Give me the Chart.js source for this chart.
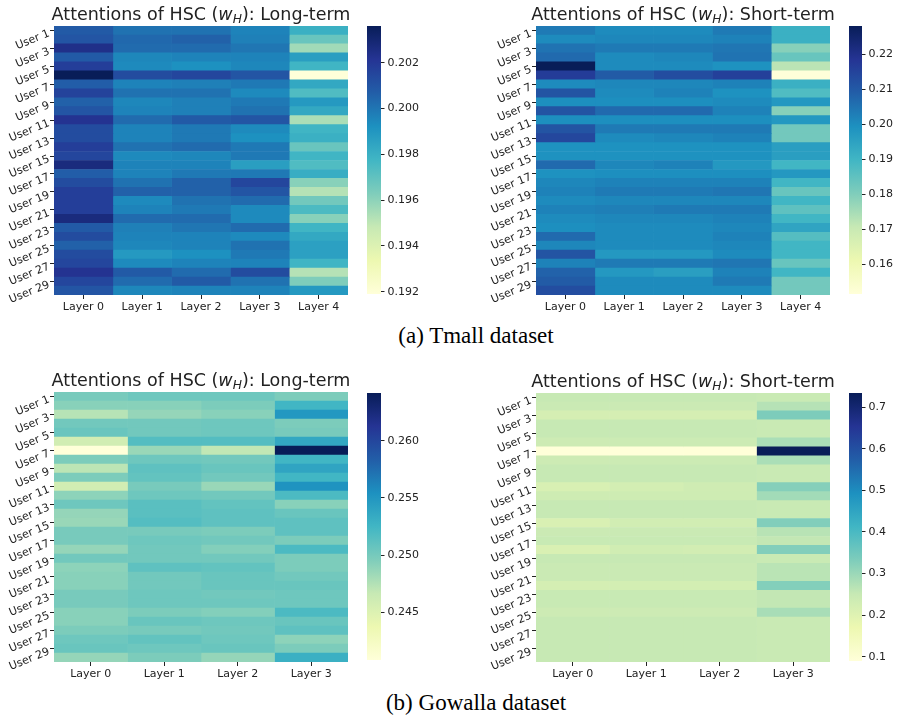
<!DOCTYPE html>
<html><head><meta charset="utf-8">
<script src="https://cdn.jsdelivr.net/npm/chart.js@4.4.1/dist/chart.umd.min.js"></script>
<style>
html,body{margin:0;padding:0;background:#fff;width:897px;height:722px;overflow:hidden;}
canvas{position:absolute;}
.cap{position:absolute;left:0;width:952px;text-align:center;font-family:'Liberation Serif',serif;font-size:23px;line-height:23px;color:#000;white-space:nowrap;}
</style></head><body>
<canvas id="h1"></canvas><canvas id="c1"></canvas>
<canvas id="h2"></canvas><canvas id="c2"></canvas>
<canvas id="h3"></canvas><canvas id="c3"></canvas>
<canvas id="h4"></canvas><canvas id="c4"></canvas>
<div class="cap" style="top:324px">(a) Tmall dataset</div>
<div class="cap" style="top:691px">(b) Gowalla dataset</div>
<script>
// ---------- categories ----------
const users = ['User 1','User 2','User 3','User 4','User 5','User 6','User 7','User 8','User 9','User 10',
  'User 11','User 12','User 13','User 14','User 15','User 16','User 17','User 18','User 19','User 20',
  'User 21','User 22','User 23','User 24','User 25','User 26','User 27','User 28','User 29','User 30'];
const tmallLayers = ['Layer 0','Layer 1','Layer 2','Layer 3','Layer 4'];
const gowallaLayers = ['Layer 0','Layer 1','Layer 2','Layer 3'];

// ---------- Tmall, long-term ----------
const tmallLong_L0 = [0.2008,0.2010,0.2024,0.2008,0.2018,0.2036,0.2007,0.2016,0.2006,0.2010,0.2022,0.2013,0.2013,0.2018,0.2015,0.2027,0.2007,0.2013,0.2018,0.2018,0.2018,0.2027,0.2008,0.2013,0.2006,0.2013,0.2015,0.2022,0.2015,0.2010];
const tmallLong_L1 = [0.2001,0.2004,0.2003,0.1995,0.1994,0.2013,0.1996,0.2001,0.1995,0.1996,0.2003,0.1996,0.1996,0.2001,0.1994,0.1996,0.1996,0.2001,0.2006,0.1994,0.1996,0.2003,0.1997,0.1996,0.1995,0.1989,0.1994,0.2008,0.2003,0.1995];
const tmallLong_L2 = [0.2001,0.2006,0.2003,0.1996,0.1992,0.2015,0.1997,0.2001,0.1997,0.1997,0.2008,0.1999,0.1999,0.2003,0.1995,0.1996,0.1999,0.2006,0.2006,0.2001,0.1999,0.2003,0.2000,0.1996,0.1996,0.1992,0.1996,0.2003,0.2008,0.1996];
const tmallLong_L3 = [0.1996,0.1997,0.2000,0.1996,0.1995,0.2010,0.1999,0.1994,0.1999,0.2001,0.2010,0.1994,0.1992,0.1999,0.1999,0.1987,0.1999,0.2015,0.2010,0.2003,0.1994,0.1994,0.2003,0.1994,0.2001,0.1999,0.1996,0.2013,0.2001,0.1996];
const tmallLong_L4 = [0.1980,0.1968,0.1956,0.1987,0.1978,0.1919,0.1983,0.1974,0.1989,0.1983,0.1954,0.1978,0.1980,0.1968,0.1978,0.1974,0.1981,0.1961,0.1952,0.1966,0.1975,0.1961,0.1978,0.1983,0.1986,0.1986,0.1978,0.1952,0.1963,0.1989];
const tmallLongTicks = [0.192,0.194,0.196,0.198,0.200,0.202];

// ---------- Tmall, short-term ----------
const tmallShort_L0 = [0.2036,0.2005,0.2051,0.2067,0.2281,0.2166,0.2005,0.2112,0.1998,0.2112,0.1998,0.2112,0.2143,0.1990,0.1990,0.2067,0.1990,0.2013,0.2021,0.2005,0.2021,0.2005,0.1998,0.2067,0.2013,0.2112,0.2021,0.2082,0.2097,0.2128];
const tmallShort_L1 = [0.2005,0.2013,0.2036,0.2005,0.2005,0.2097,0.2013,0.2005,0.1998,0.2067,0.1998,0.2036,0.2005,0.1990,0.1990,0.2013,0.1998,0.2021,0.2036,0.2013,0.2028,0.2013,0.2005,0.2005,0.2005,0.1975,0.2036,0.1975,0.2005,0.2005];
const tmallShort_L2 = [0.2005,0.2013,0.2036,0.2013,0.2005,0.2128,0.2013,0.2021,0.1998,0.2067,0.1998,0.2036,0.2013,0.1990,0.1990,0.2021,0.1998,0.2021,0.2036,0.2013,0.2036,0.2013,0.2005,0.2005,0.2005,0.1975,0.2036,0.1959,0.2005,0.2005];
const tmallShort_L3 = [0.2036,0.2021,0.2044,0.2051,0.1990,0.2158,0.2021,0.1990,0.2005,0.2021,0.1998,0.2036,0.2021,0.1990,0.1990,0.1975,0.1998,0.2021,0.2044,0.2013,0.2036,0.2021,0.2013,0.2021,0.2013,0.2005,0.2044,0.2021,0.2036,0.2005];
const tmallShort_L4 = [0.1913,0.1913,0.1791,0.1837,0.1722,0.1515,0.1913,0.1875,0.1975,0.1791,0.1975,0.1821,0.1821,0.1959,0.1959,0.1898,0.1975,0.1898,0.1837,0.1898,0.1852,0.1898,0.1944,0.1867,0.1898,0.1898,0.1837,0.1898,0.1821,0.1821];
const tmallShortTicks = [0.16,0.17,0.18,0.19,0.20,0.21,0.22];

// ---------- Gowalla, long-term ----------
const gowallaLong_L0 = [0.2499,0.2492,0.2473,0.2502,0.2506,0.2459,0.2408,0.2497,0.2471,0.2497,0.2459,0.2490,0.2504,0.2487,0.2485,0.2499,0.2499,0.2487,0.2502,0.2490,0.2492,0.2492,0.2499,0.2499,0.2492,0.2492,0.2497,0.2504,0.2506,0.2487];
const gowallaLong_L1 = [0.2504,0.2492,0.2487,0.2502,0.2502,0.2516,0.2485,0.2504,0.2511,0.2509,0.2499,0.2504,0.2513,0.2513,0.2516,0.2499,0.2504,0.2502,0.2502,0.2511,0.2502,0.2502,0.2504,0.2504,0.2497,0.2506,0.2499,0.2509,0.2504,0.2497];
const gowallaLong_L2 = [0.2504,0.2497,0.2492,0.2504,0.2504,0.2516,0.2469,0.2502,0.2506,0.2502,0.2485,0.2502,0.2509,0.2511,0.2511,0.2497,0.2502,0.2494,0.2502,0.2509,0.2506,0.2506,0.2502,0.2504,0.2494,0.2504,0.2502,0.2504,0.2506,0.2487];
const gowallaLong_L3 = [0.2497,0.2525,0.2549,0.2497,0.2499,0.2537,0.2642,0.2525,0.2539,0.2525,0.2553,0.2520,0.2492,0.2506,0.2511,0.2511,0.2497,0.2520,0.2497,0.2497,0.2502,0.2506,0.2504,0.2504,0.2520,0.2506,0.2511,0.2490,0.2497,0.2530];
const gowallaLongTicks = [0.245,0.250,0.255,0.260];

// ---------- Gowalla, short-term ----------
const gowallaShort_L0 = [0.251,0.245,0.222,0.251,0.251,0.238,0.090,0.238,0.251,0.251,0.215,0.236,0.251,0.251,0.212,0.243,0.248,0.212,0.251,0.245,0.245,0.223,0.248,0.248,0.238,0.251,0.251,0.251,0.251,0.251];
const gowallaShort_L1 = [0.251,0.243,0.222,0.251,0.251,0.240,0.091,0.240,0.251,0.251,0.225,0.236,0.251,0.251,0.230,0.245,0.248,0.232,0.251,0.245,0.245,0.225,0.248,0.248,0.238,0.251,0.251,0.251,0.251,0.251];
const gowallaShort_L2 = [0.251,0.243,0.222,0.251,0.251,0.240,0.092,0.240,0.251,0.251,0.235,0.236,0.251,0.251,0.230,0.245,0.248,0.228,0.251,0.245,0.245,0.225,0.248,0.248,0.238,0.251,0.251,0.251,0.251,0.251];
const gowallaShort_L3 = [0.247,0.270,0.334,0.247,0.247,0.283,0.734,0.283,0.247,0.247,0.325,0.292,0.247,0.247,0.328,0.268,0.256,0.328,0.247,0.265,0.265,0.327,0.256,0.256,0.286,0.247,0.247,0.247,0.247,0.247];
const gowallaShortTicks = [0.1,0.2,0.3,0.4,0.5,0.6,0.7];

// ---------- colour map (YlGnBu) ----------
const YLGNBU = ['#ffffd9','#edf8b1','#c7e9b4','#7fcdbb','#41b6c4','#1d91c0','#225ea8','#253494','#081d58'];
const CM = YLGNBU.map(h => [parseInt(h.slice(1,3),16), parseInt(h.slice(3,5),16), parseInt(h.slice(5,7),16)]);
function cmap(t){
  t = Math.max(0, Math.min(1, t));
  const x = t * 8, i = Math.min(7, Math.floor(x)), f = x - i, a = CM[i], b = CM[i+1];
  return 'rgb(' + [0,1,2].map(k => Math.round(a[k] + (b[k]-a[k])*f)).join(',') + ')';
}

const FONT = "'DejaVu Sans', sans-serif";
const TXT = '#222222';

const richTitle = {
  id: 'richTitle',
  afterDraw(chart, args, opts){
    if (!opts || !opts.text) return;
    const ctx = chart.ctx, ca = chart.chartArea, size = 17.5;
    const segs = [
      {t:'Attentions of HSC (', f: size + 'px ' + FONT, dy:0},
      {t:'w', f:'italic ' + size + 'px ' + FONT, dy:0},
      {t:'H', f:'italic ' + (size*0.7) + 'px ' + FONT, dy:2.5},
      {t:'): ' + opts.text, f: size + 'px ' + FONT, dy:0}
    ];
    ctx.save();
    let total = 0;
    segs.forEach(s => { ctx.font = s.f; s.w = ctx.measureText(s.t).width; total += s.w; });
    let x = (ca.left + ca.right)/2 - total/2;
    const y = ca.top - 6;
    ctx.fillStyle = TXT; ctx.textBaseline = 'alphabetic'; ctx.textAlign = 'left';
    segs.forEach(s => { ctx.font = s.f; ctx.fillText(s.t, x, y + s.dy); x += s.w; });
    ctx.restore();
  }
};

function place(cv, left, top, w, h){
  cv.width = w; cv.height = h;
  cv.style.left = left + 'px'; cv.style.top = top + 'px';
  cv.style.width = w + 'px'; cv.style.height = h + 'px';
}

function makeHeatmap(id, rect, layers, cols, title){
  const OFFL = 54, OFFT = 30, OFFR = 12, XH = 28;
  const cv = document.getElementById(id);
  place(cv, rect.x - OFFL, rect.y - OFFT, rect.w + OFFL + OFFR, rect.h + OFFT + XH);
  const all = cols.flat();
  const vmin = Math.min(...all), vmax = Math.max(...all);
  const datasets = cols.map((vals, j) => ({
    label: layers[j],
    data: vals.map(() => 1),
    backgroundColor: vals.map(v => cmap((v - vmin) / (vmax - vmin))),
    borderWidth: 0, barPercentage: 1, categoryPercentage: 1
  }));
  new Chart(cv, {
    type: 'bar',
    data: { labels: users, datasets },
    options: {
      indexAxis: 'y', responsive: false, animation: false, devicePixelRatio: 1,
      layout: { padding: { left: 0, top: OFFT, right: OFFR, bottom: 0 } },
      plugins: { legend: { display: false }, tooltip: { enabled: false }, richTitle: { text: title } },
      scales: {
        x: {
          type: 'linear', stacked: true, min: 0, max: layers.length,
          afterBuildTicks: s => { s.ticks = layers.map((_, i) => ({ value: i + 0.5 })); },
          afterFit: s => { s.height = XH; },
          ticks: { callback: v => layers[Math.round(v - 0.5)], autoSkip: false, maxRotation: 0, minRotation: 0,
                   padding: 1.5, color: TXT, font: { family: FONT, size: 11 } },
          grid: { drawOnChartArea: false, drawTicks: true, tickLength: 4, tickColor: TXT, tickWidth: 1 },
          border: { display: false }
        },
        y: {
          type: 'category', stacked: true, offset: true,
          afterBuildTicks: s => { s.ticks = s.ticks.filter((t, i) => i % 2 === 0); },
          afterFit: s => { s.width = OFFL; },
          // a blank first line nudges each rotated label slightly below its tick, as in the original
          ticks: { callback: function(v){ return ['', this.getLabelForValue(v)]; },
                   autoSkip: false, minRotation: 22, maxRotation: 22, padding: 2, color: TXT,
                   font: { family: FONT, size: 11, lineHeight: 0.55 } },
          grid: { offset: false, drawOnChartArea: false, drawTicks: true, tickLength: 4, tickColor: TXT, tickWidth: 1 },
          border: { display: false }
        }
      }
    },
    plugins: [richTitle]
  });
  return { vmin, vmax };
}

function makeColorbar(id, rect, range, ticks, decimals){
  const AXW = 70, PT = 20, PB = 20;
  const cv = document.getElementById(id);
  place(cv, rect.x, rect.y - PT, rect.w + AXW, rect.h + PT + PB);
  new Chart(cv, {
    type: 'bar',
    data: { labels: [''], datasets: [{
      data: [[range.vmin, range.vmax]],
      backgroundColor: c => {
        const ca = c.chart.chartArea;
        if (!ca) return YLGNBU[4];
        const g = c.chart.ctx.createLinearGradient(0, ca.bottom, 0, ca.top);
        YLGNBU.forEach((col, i) => g.addColorStop(i / 8, col));
        return g;
      },
      borderWidth: 0, barPercentage: 1, categoryPercentage: 1
    }]},
    options: {
      responsive: false, animation: false, devicePixelRatio: 1,
      layout: { padding: { left: 0, right: 0, top: PT, bottom: PB } },
      plugins: { legend: { display: false }, tooltip: { enabled: false } },
      scales: {
        x: { display: false },
        y: {
          position: 'right', min: range.vmin, max: range.vmax,
          afterBuildTicks: s => { s.ticks = ticks.map(v => ({ value: v })); },
          afterFit: s => { s.width = AXW; },
          ticks: { callback: v => Number(v).toFixed(decimals), padding: 3, color: TXT, font: { family: FONT, size: 11 } },
          grid: { drawOnChartArea: false, drawTicks: true, tickLength: 3.5, tickColor: TXT, tickWidth: 1 },
          border: { display: false }
        }
      }
    }
  });
}

const r1 = makeHeatmap('h1', {x:54, y:26, w:294, h:269}, tmallLayers,
  [tmallLong_L0, tmallLong_L1, tmallLong_L2, tmallLong_L3, tmallLong_L4], 'Long-term');
makeColorbar('c1', {x:367, y:26, w:14, h:268}, r1, tmallLongTicks, 3);

const r2 = makeHeatmap('h2', {x:536, y:26, w:294, h:269}, tmallLayers,
  [tmallShort_L0, tmallShort_L1, tmallShort_L2, tmallShort_L3, tmallShort_L4], 'Short-term');
makeColorbar('c2', {x:849, y:26, w:13, h:268}, r2, tmallShortTicks, 2);

const r3 = makeHeatmap('h3', {x:54, y:392, w:294, h:270}, gowallaLayers,
  [gowallaLong_L0, gowallaLong_L1, gowallaLong_L2, gowallaLong_L3], 'Long-term');
makeColorbar('c3', {x:367, y:393, w:14, h:267}, r3, gowallaLongTicks, 3);

const r4 = makeHeatmap('h4', {x:536, y:393, w:294, h:269}, gowallaLayers,
  [gowallaShort_L0, gowallaShort_L1, gowallaShort_L2, gowallaShort_L3], 'Short-term');
makeColorbar('c4', {x:849, y:393, w:13, h:268}, r4, gowallaShortTicks, 1);
</script>
</body></html>
